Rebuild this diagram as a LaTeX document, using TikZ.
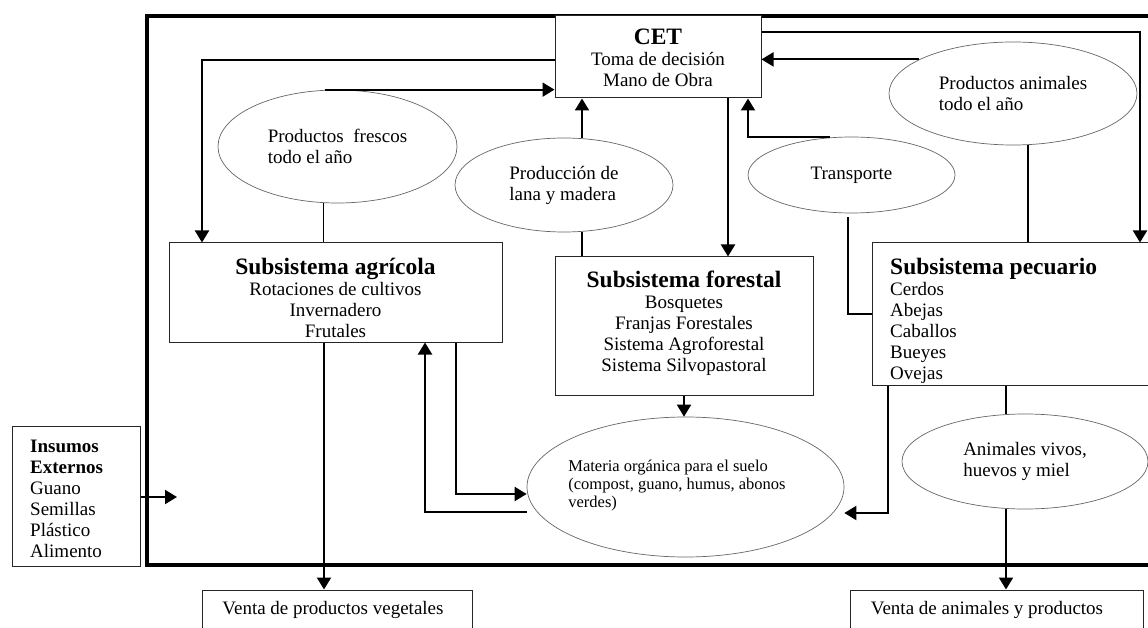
\documentclass[tikz,border=0pt]{standalone}
\usepackage{fontspec}
\setmainfont{Liberation Serif}
\usetikzlibrary{shapes.geometric,arrows.meta,calc}
\newcommand\hdfont{\fontsize{23.5}{24}\selectfont\bfseries}
\begin{document}
\begin{tikzpicture}[x=1pt,y=-1pt,
  box/.style={draw=black!85,line width=1pt,rectangle,inner sep=0pt,fill=white},
  ell/.style={draw=black!60,line width=0.7pt,ellipse,inner sep=0pt,align=left,font=\fontsize{19}{21}\selectfont},
  arr/.style={line width=2pt,-{Triangle[length=12pt,width=14pt]}},
  ln/.style={line width=1.4pt},
  frm/.style={line width=3.2pt},
  nf/.style={font=\fontsize{19}{21}\selectfont,inner sep=0pt},
  sf/.style={font=\fontsize{16.5}{18}\selectfont,inner sep=0pt}]
\clip (0,0) rectangle (1148,628);
\fill[white] (0,0) rectangle (1148,628);
% outer frame
\draw[frm] (147,16) rectangle (1170,565);
% boxes
\node[box,minimum width=206pt,minimum height=82pt] (cet) at (658,57) {};
\node[nf,align=center,anchor=north] (cetT) at (658,28.5) {{\hdfont CET}\\Toma de decisión\\Mano de Obra};
\node[box,minimum width=333pt,minimum height=99pt] (agr) at (335.5,292.5) {};
\node[nf,align=center,anchor=north] (agrT) at (335.5,257.5) {{\hdfont Subsistema agrícola}\\Rotaciones de cultivos\\Invernadero\\Frutales};
\node[box,minimum width=258pt,minimum height=138pt] (for) at (684,326) {};
\node[nf,align=center,anchor=north] (forT) at (684,270.5) {{\hdfont Subsistema forestal}\\Bosquetes\\Franjas Forestales\\Sistema Agroforestal\\Sistema Silvopastoral};
\node[box,minimum width=280pt,minimum height=142pt] (pec) at (1012,314) {};
\node[nf,align=left,anchor=north west] (pecT) at (890,257.5) {{\hdfont Subsistema pecuario}\\Cerdos\\Abejas\\Caballos\\Bueyes\\Ovejas};
\node[box,minimum width=128pt,minimum height=140pt] (ins) at (76,496) {};
\node[nf,align=left,anchor=north west] (insT) at (30,440) {\textbf{Insumos}\\\textbf{Externos}\\Guano\\Semillas\\Plástico\\Alimento};
\node[box,minimum width=270pt,minimum height=50pt] (veg) at (337,615) {};
\node[nf] (vegT) at (333,610) {Venta de productos vegetales};
\node[box,minimum width=293pt,minimum height=50pt] (ani) at (996.5,615) {};
\node[nf] (aniT) at (987,610) {Venta de animales y productos};
% ellipses
\node[ell,minimum width=239pt,minimum height=113pt] (fres) at (337.5,146.5) {Productos\ \ frescos\\todo el año};
\node[ell,minimum width=218pt,minimum height=94pt] (lana) at (564,185) {Producción de\\lana y madera};
\node[ell,minimum width=207pt,minimum height=76pt] (trans) at (851.5,175) {Transporte};
\node[ell,minimum width=248pt,minimum height=103pt] (anp) at (1013,93.5) {Productos animales\\todo el año};
\node[ell,minimum width=317pt,minimum height=140pt] (mat) at (685.5,487) {};
\node[sf,align=left] (matT) at (677,486) {Materia orgánica para el suelo\\(compost, guano, humus, abonos\\verdes)};
\node[ell,minimum width=246pt,minimum height=95pt] (anv) at (1025,461.5) {Animales vivos,\\huevos y miel};
\coordinate (insEnd) at (177,497);
% connectors
\draw[arr] ([yshift=-3pt]cet.west) -| ([xshift=-133.5pt]agr.north);
\draw[arr] ([xshift=-13pt]fres.north) -- (fres.north -| cet.west);
\draw[ln] ([xshift=-14pt]fres.south) -- ([xshift=-14pt]fres.south |- agr.north);
\draw[arr] ([xshift=18pt]lana.north) -- ([xshift=18pt]lana.north |- cet.south);
\draw[ln] ([xshift=18pt]lana.south) -- ([xshift=18pt]lana.south |- for.north);
\draw[arr] ([xshift=70pt]cet.south) -- ([xshift=70pt]cet.south |- for.north);
\draw[arr] ([xshift=-21.5pt]trans.north) -| ([xshift=90pt]cet.south);
\draw[ln] ([xshift=-3.5pt,yshift=-4pt]trans.south) |- (pec.west);
\draw[arr] ([yshift=25pt]cet.east) -| ([xshift=128pt]pec.north);
\draw[arr] (anp.160) -- (anp.160 -| cet.east);
\draw[ln] ([xshift=15pt]anp.south) -- ([xshift=15pt]anp.south |- pec.north);
\draw[arr] ([xshift=-11.5pt]agr.south) -- ([xshift=-11.5pt]agr.south |- veg.north);
\draw[arr] ([xshift=120.5pt]agr.south) |- ([yshift=-7pt]mat.west);
\draw[arr] ([yshift=-25pt]mat.west) -| ([xshift=89.5pt]agr.south);
\draw[arr] (for.south) -- (for.south |- mat.north);
\draw[arr] ([xshift=-124pt]pec.south) |- ([yshift=-26pt]mat.east);
\draw[ln] ([xshift=-6pt]pec.south) -- ([xshift=-6pt]pec.south |- anv.north);
\draw[arr] ([xshift=-19pt]anv.south) -- ([xshift=-19pt]anv.south |- ani.north);
\draw[arr] (ins.east |- insEnd) -- (insEnd);
\end{tikzpicture}
\end{document}
